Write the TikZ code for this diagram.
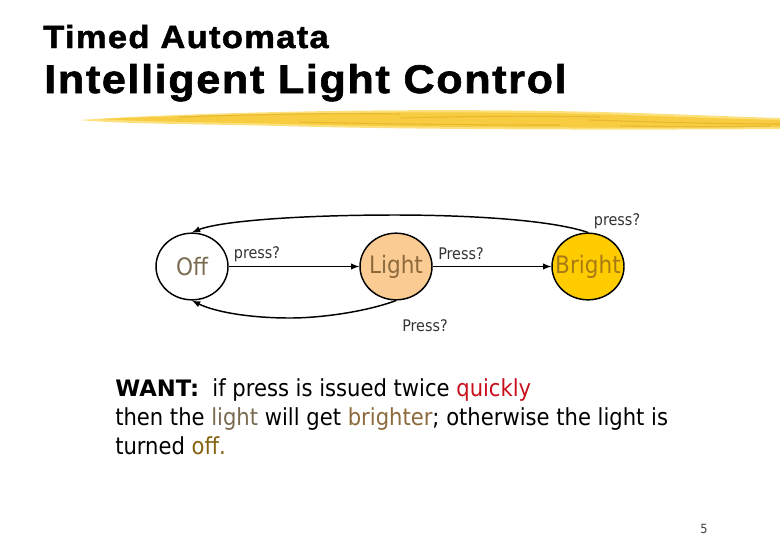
\documentclass[tikz,border=0pt]{standalone}
\usepackage{fontspec}
\setmainfont{DejaVu Sans Condensed}
\newfontfamily\wantfont{DejaVu Sans Bold}
\newfontfamily\titlefont[FakeBold=1.5,FakeStretch=1.08,LetterSpace=4]{Liberation Sans Bold}
\definecolor{offbrown}{HTML}{7A6A4F}
\definecolor{lightbrown}{HTML}{8C6A3C}
\definecolor{brightbrown}{HTML}{A87A14}
\definecolor{lightfill}{HTML}{FBCB94}
\definecolor{brightfill}{HTML}{FFCC00}
\definecolor{quickred}{HTML}{C8101C}
\definecolor{brushlight}{HTML}{FBE07C}
\definecolor{brushmid}{HTML}{F7CC40}
\definecolor{brushdark}{HTML}{E8B82E}
\usetikzlibrary{shapes.geometric}
\tikzset{
  state/.style={draw, ellipse, line width=1.1pt, minimum width=54pt, minimum height=50pt, inner sep=0pt, font=\fontsize{18}{22}\selectfont},
  edgeline/.style={draw, line width=1.1pt, -latex},
  edgelabel/.style={font=\fontsize{12}{14}\selectfont, text=black!80, inner sep=0pt},
  streak/.style={draw=brushdark, line width=0.8pt}
}
\begin{document}
\begin{tikzpicture}[x=0.75pt, y=-0.75pt]
    % Page size, same as the slide
    \path[use as bounding box] (0,0) rectangle (780,540);

    % Slide title
    \node[anchor=base west, inner sep=0pt, font=\titlefont\fontsize{24}{27}\selectfont] (subtitle) at (43,48) {Timed Automata};
    \node[anchor=base west, inner sep=0pt, font=\titlefont\fontsize{30}{34}\selectfont] (title) at (44,93) {Intelligent Light Control};

    % Yellow brush stroke under the title
    \fill[brushlight] (80,120) .. controls (180,113) and (400,107) .. (600,112) .. controls (680,114) and (740,117) .. (780,118) -- (780,129) .. controls (650,130) and (420,130) .. (280,126) .. controls (200,124) and (120,124) .. (80,120) -- cycle;
    \fill[brushmid] (100,119) .. controls (220,114) and (420,110) .. (590,114) .. controls (660,116) and (730,119) .. (780,120) -- (780,127) .. controls (650,128) and (420,128) .. (290,124) .. controls (210,122) and (150,122) .. (100,119) -- cycle;
    \draw[streak] (180,117) .. controls (260,114) and (340,113) .. (400,114);
    \draw[streak] (300,122) .. controls (380,124) and (470,125) .. (560,125);
    \draw[streak] (400,118) .. controls (470,116) and (540,116) .. (600,117);
    \draw[streak] (590,120) .. controls (650,122) and (720,124) .. (780,124);
    \draw[streak] (620,126) .. controls (680,127) and (730,127) .. (770,126);

    % States
    \node[state, text=offbrown] (off) at (192,266.5) {\makebox[0pt]{Off}};
    \node[state, fill=lightfill, text=lightbrown] (light) at (396,266.5) {\makebox[0pt]{Light}};
    \node[state, fill=brightfill, text=brightbrown] (bright) at (588,266.5) {\makebox[0pt]{Bright}};

    % Transitions
    \draw[edgeline] (off) -- (light);
    \draw[edgeline] (light) -- (bright);
    \draw[edgeline] (bright.north) .. controls (545,218) and (450,215) .. (395,215) .. controls (300,215) and (220,221) .. (off.north);
    \draw[edgeline] (light.south) .. controls (365,312) and (320,318) .. (290,318) .. controls (250,318) and (215,312) .. (off.south);

    % Transition labels
    \node[edgelabel] (offlabel) at (257,254) {press?};
    \node[edgelabel] (lightlabel) at (461,254) {Press?};
    \node[edgelabel] (brightlabel) at (617,221) {press?};
    \node[edgelabel] (backlabel) at (425,326) {Press?};

    % What we want
    \node[anchor=base west, inner sep=0pt, align=left, font=\fontsize{17.6}{21.75}\selectfont] (want) at (115,454) {{\wantfont\fontsize{17}{21.75}\selectfont WANT:}\ \ if press is issued twice \textcolor{quickred}{quickly}\\
      then the \textcolor{offbrown}{light} will get \textcolor{lightbrown}{brighter}; otherwise the light is\\
      turned \textcolor{brightbrown!80!black}{off.}};

    % Slide number
    \node[font=\fontsize{9.5}{12}\selectfont, text=black!75, inner sep=0pt] (pagenum) at (704,529) {5};
\end{tikzpicture}
\end{document}
